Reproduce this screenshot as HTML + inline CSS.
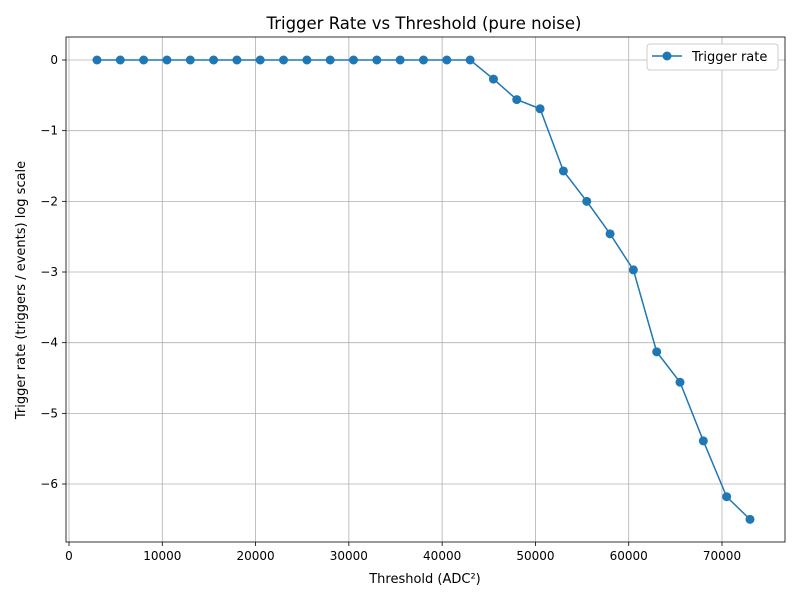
<!DOCTYPE html>
<html><head><meta charset="utf-8"><style>
body{margin:0;background:#fff;font-family:"Liberation Sans","DejaVu Sans",sans-serif}
svg text{font-family:"DejaVu Sans","Liberation Sans",sans-serif;fill:#000}
</style></head><body>
<svg id="c" width="800" height="600" xmlns="http://www.w3.org/2000/svg"></svg>
<script>
const thresholds=[3000,5500,8000,10500,13000,15500,18000,20500,23000,25500,28000,30500,33000,35500,38000,40500,43000,45500,48000,50500,53000,55500,58000,60500,63000,65500,68000,70500,73000];
const rates=[0,0,0,0,0,0,0,0,0,0,0,0,0,0,0,0,0,-0.27,-0.56,-0.69,-1.57,-2.0,-2.46,-2.97,-4.13,-4.56,-5.39,-6.18,-6.5];
const xTicks=[0,10000,20000,30000,40000,50000,60000,70000];
const yTicks=[0,-1,-2,-3,-4,-5,-6];
const L=66,R=785,T=37,B=542;
const X=v=>69+v*(653/70000);
const Y=v=>60-v*70.67;
const s=document.getElementById('c');const NS='http://www.w3.org/2000/svg';
function mk(t,a,p){const e=document.createElementNS(NS,t);for(const k in a)e.setAttribute(k,a[k]);(p||s).appendChild(e);return e;}
let e;
e=mk('text',{x:424,y:29,'text-anchor':'middle','font-size':16.5});e.textContent='Trigger Rate vs Threshold (pure noise)';


xTicks.forEach(v=>{const x=X(v);
e=mk('line',{x1:x,x2:x,y1:T,y2:B,stroke:'#b0b0b0','stroke-width':0.8});


mk('line',{x1:x,x2:x,y1:B,y2:B+4,stroke:'#000','stroke-width':0.8});
e=mk('text',{x:x,y:B+18,'text-anchor':'middle','font-size':12});e.textContent=v;

});
yTicks.forEach(v=>{const y=Y(v);
e=mk('line',{x1:L,x2:R,y1:y,y2:y,stroke:'#b0b0b0','stroke-width':0.8});


mk('line',{x1:L-4,x2:L,y1:y,y2:y,stroke:'#000','stroke-width':0.8});
e=mk('text',{x:L-8,y:y+4,'text-anchor':'end','font-size':12});e.textContent=v<0?'\u2212'+(-v):v;

});
e=mk('rect',{x:L,y:T,width:R-L,height:B-T,fill:'none',stroke:'#000','stroke-width':0.8});


e=mk('polyline',{points:thresholds.map((t,i)=>X(t)+','+Y(rates[i])).join(' '),fill:'none',stroke:'#1f77b4','stroke-width':1.5});


thresholds.forEach((t,i)=>{e=mk('circle',{cx:X(t),cy:Y(rates[i]),r:4.5,fill:'#1f77b4'});

});
e=mk('text',{x:425,y:583,'text-anchor':'middle','font-size':13});e.textContent='Threshold (ADC\u00b2)';


e=mk('text',{x:0,y:0,'text-anchor':'middle','font-size':13,transform:'translate(25,290) rotate(-90)'});e.textContent='Trigger rate (triggers / events) log scale';


const g=mk('g',{});


mk('rect',{x:647,y:44,width:131,height:26,rx:3,fill:'#fff',stroke:'#ccc'},g);
mk('line',{x1:652,x2:682,y1:56,y2:56,stroke:'#1f77b4','stroke-width':1.5},g);
mk('circle',{cx:667,cy:56,r:4.5,fill:'#1f77b4'},g);
e=mk('text',{x:692,y:61,'font-size':13},g);e.textContent='Trigger rate';


</script></body></html>
